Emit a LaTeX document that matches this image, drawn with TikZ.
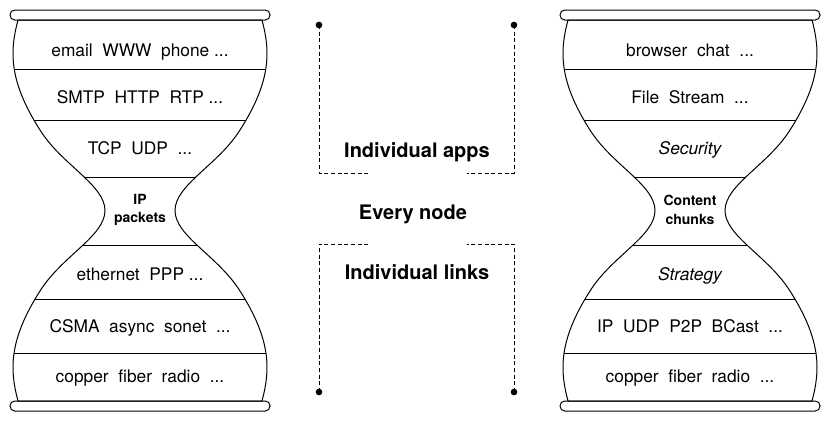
\documentclass[tikz,border=0pt]{standalone}
\usepackage{fontspec}
\setmainfont{TeX Gyre Heros}

% outline of one hourglass, in pixel units
\newcommand\glassoutline{(18,20) .. controls (10,50) and (8,80) .. (40,130)
  .. controls (62,165) and (105,185) .. (105,210.5)
  .. controls (105,236) and (62,256) .. (40,291)
  .. controls (8,341) and (10,371) .. (18,401) -- (262,401)
  .. controls (270,371) and (272,341) .. (240,291)
  .. controls (218,256) and (175,236) .. (175,210.5)
  .. controls (175,185) and (218,165) .. (240,130)
  .. controls (272,80) and (270,50) .. (262,20) -- cycle}

\begin{document}
\begin{tikzpicture}[
    x=0.75pt, y=-0.75pt,
    layer/.style={
        anchor=base,
        inner sep=0pt,
        font=\fontsize{13}{15}\selectfont
    },
    waist/.style={
        inner sep=0pt,
        align=center,
        font=\fontsize{10.5}{14}\selectfont\bfseries
    },
    tag/.style={
        anchor=base,
        inner sep=0pt,
        font=\fontsize{15}{17}\selectfont\bfseries
    },
    rim/.style={
        draw,
        line width=0.75pt,
        rounded corners=3.6pt
    },
    glass/.style={line width=0.75pt},
    bracket/.style={dash pattern=on 3pt off 2pt, line width=0.6pt},
    dot/.style={circle, fill, inner sep=0pt, minimum size=5pt}
]

\useasboundingbox (0,0) rectangle (832,422);

% the two glasses
\foreach \dx in {0,550} {
  \begin{scope}[shift={(\dx,0)}]
    \begin{scope}
      \clip \glassoutline;
      \foreach \y in {69,120,177,245,299,353}
        \draw[glass] (0,\y) -- (280,\y);
    \end{scope}
    \draw[glass] \glassoutline;
    \draw[rim] (10,10) rectangle (270,20);
    \draw[rim] (10,401) rectangle (270,411);
  \end{scope}
}

% internet stack
\node[layer] (apps) at (140,56) {email\ \ WWW\ \ phone ...};
\node[layer] (appproto) at (140,103) {SMTP\ \ HTTP\ \ RTP ...};
\node[layer] (transport) at (140,154) {TCP\ \ UDP\ \ ...};
\node[waist] (ip) at (140,210) {IP\\packets};
\node[layer] (linkproto) at (140,280) {ethernet\ \ PPP ...};
\node[layer] (mac) at (140,332) {CSMA\ \ async\ \ sonet\ \ ...};
\node[layer] (phys) at (140,382) {copper\ \ fiber\ \ radio\ \ ...};

% content stack
\node[layer] (capps) at (690,56) {browser\ \ chat\ \ ...};
\node[layer] (cdata) at (690,103) {File\ \ Stream\ \ ...};
\node[layer] (csec) at (690,154) {\itshape Security};
\node[waist] (chunks) at (690,210) {Content\\chunks};
\node[layer] (cstrat) at (690,280) {\itshape Strategy};
\node[layer] (ctrans) at (690,332) {IP\ \ UDP\ \ P2P\ \ BCast\ \ ...};
\node[layer] (cphys) at (690,382) {copper\ \ fiber\ \ radio\ \ ...};

% brackets in the middle
\node[dot] (tl) at (319,25) {};
\node[dot] (tr) at (514,25) {};
\node[dot] (bl) at (319,392) {};
\node[dot] (br) at (514,392) {};
\coordinate (tlend) at (368,173);
\coordinate (trend) at (467,173);
\coordinate (blend) at (368,244);
\coordinate (brend) at (467,244);

\draw[bracket] (tl.center) |- (tlend);
\draw[bracket] (tr.center) |- (trend);
\draw[bracket] (bl.center) |- (blend);
\draw[bracket] (br.center) |- (brend);

\node[tag] (indapps) at (417,157) {Individual apps};
\node[tag] (every) at (413,219) {Every node};
\node[tag] (indlinks) at (417,279) {Individual links};

\end{tikzpicture}
\end{document}
